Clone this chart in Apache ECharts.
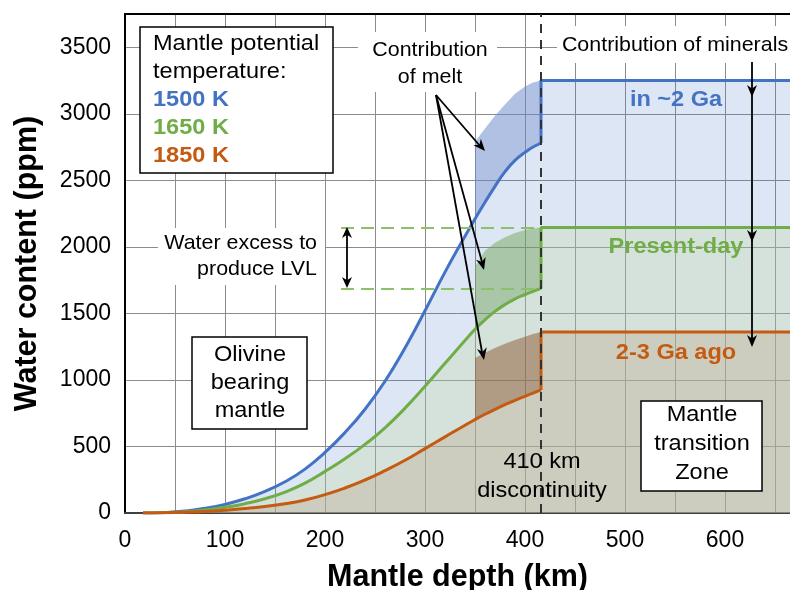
<!DOCTYPE html>
<html>
<head>
<meta charset="utf-8">
<script src="https://cdn.jsdelivr.net/npm/echarts@6/dist/echarts.min.js"></script>
<style>
html,body{margin:0;padding:0;background:#fff;}
#chart{width:790px;height:590px;}
</style>
</head>
<body>
<div id="chart"></div>
<script>
// ---------- data ----------
const depthKm    = [18, 40, 60, 80, 100, 120, 140, 160, 180, 200, 220, 240, 260, 280, 300, 320, 340, 350, 360, 370, 380, 390, 400, 408, 416];
const water1500K = [0, 4, 15, 35, 65, 107, 163, 235, 330, 455, 605, 780, 990, 1240, 1520, 1810, 2080, 2210, 2335, 2455, 2565, 2650, 2710, 2750, 2780];
const water1650K = [0, 3, 10, 23, 43, 70, 107, 157, 225, 313, 408, 516, 640, 788, 953, 1125, 1297, 1380, 1452, 1515, 1567, 1609, 1642, 1666, 1688];
const water1850K = [0, 2, 6, 12, 21, 33, 49, 70, 98, 138, 188, 248, 318, 396, 484, 572, 660, 702, 742, 779, 814, 847, 877, 901, 925];

const meltDepthKm = [350, 360, 370, 380, 390, 400, 408, 416];
const melt1500K = [2790, 2890, 2985, 3070, 3150, 3205, 3235, 3250];
const melt1650K = [1850, 1970, 2030, 2072, 2105, 2127, 2138, 2145];
const melt1850K = [1165, 1205, 1240, 1272, 1300, 1325, 1345, 1360];

const tzDepthKm = [416, 665];          // mantle transition zone (flat part)
const tz1500K = 3250, tz1650K = 2145, tz1850K = 1360;
const discontinuityKm = 416;
const lvlStartKm = 216, lvlEndKm = 410;
const xTicks = [0, 100, 200, 300, 400, 500, 600];
const yTicks = [0, 500, 1000, 1500, 2000, 2500, 3000, 3500];

// ---------- styling ----------
const FONT = 'Liberation Sans, Arial, sans-serif';
const C_BLUE = '#4472c4', C_GREEN = '#70ad47', C_BROWN = '#c55a11';
const pairs = (xs, ys) => xs.map((x, i) => [x, ys[i]]);

function areaSeries(data, fill, smooth) {
  return { type: 'line', data, smooth, symbol: 'none', z: 2, silent: true,
    lineStyle: { width: 0, opacity: 0 }, areaStyle: { color: fill, opacity: 1 } };
}
function lineSeries(data, color, smooth, extra) {
  return Object.assign({ type: 'line', data, smooth, symbol: 'none', z: 4, silent: true,
    lineStyle: { width: 3, color } }, extra || {});
}
function meltSeries(top, curve, fill) {
  return { type: 'custom', coordinateSystem: 'cartesian2d', z: 3, silent: true,
    data: [[meltDepthKm[0], top[0]]],
    renderItem: function (params, api) {
      const up = meltDepthKm.map((d, i) => api.coord([d, top[i]]));
      const low = meltDepthKm.map((d) => api.coord([d, curve[depthKm.indexOf(d)]])).reverse();
      return { type: 'polygon', shape: { points: up.concat(low) }, style: { fill } };
    } };
}
const stepData = (curve, tz) => [[depthKm[depthKm.length - 1], curve[curve.length - 1]], [tzDepthKm[0], tz], [tzDepthKm[1], tz]];

// arrows / annotations (pixel space)
function head(tip, from, len, half) {
  len = len || 12; half = half || 5;
  const dx = tip[0] - from[0], dy = tip[1] - from[1], L = Math.hypot(dx, dy);
  const ux = dx / L, uy = dy / L;
  const bx = tip[0] - ux * len, by = tip[1] - uy * len;
  const nx = tip[0] - ux * len * 0.7, ny = tip[1] - uy * len * 0.7;
  return { type: 'polygon', z: 100, silent: true,
    shape: { points: [tip, [bx - uy * half, by + ux * half], [nx, ny], [bx + uy * half, by - ux * half]] },
    style: { fill: '#000' } };
}
function seg(a, b) {
  return { type: 'line', z: 100, silent: true, shape: { x1: a[0], y1: a[1], x2: b[0], y2: b[1] },
    style: { stroke: '#000', lineWidth: 1.8 } };
}
function txt(x, y, text, opt) {
  opt = opt || {};
  return { type: 'text', z: 101, silent: true, x, y, scaleX: opt.sx || 1.07,
    style: { text, fill: opt.color || '#000', font: (opt.bold ? 'bold ' : '') + (opt.size || 22) + 'px ' + FONT,
      align: opt.align || 'center', verticalAlign: 'middle', lineHeight: opt.lh || 28 } };
}
function box(x, y, w, h, stroke) {
  return { type: 'rect', z: 99, silent: true, shape: { x, y, width: w, height: h },
    style: { fill: '#fff', stroke: stroke ? '#000' : null, lineWidth: stroke ? 1.5 : 0 } };
}

const meltFrom = [436, 95];
const elements = [
  // legend
  box(140, 27, 193, 146, true),
  txt(153, 44, 'Mantle potential', { align: 'left' }),
  txt(153, 72, 'temperature:', { align: 'left' }),
  txt(153, 100, '1500 K', { align: 'left', bold: true, color: C_BLUE }),
  txt(153, 128, '1650 K', { align: 'left', bold: true, color: C_GREEN }),
  txt(153, 156, '1850 K', { align: 'left', bold: true, color: C_BROWN }),
  // contribution of melt
  box(358, 32, 139, 60, false),
  txt(430, 63.5, 'Contribution\nof melt', { size: 21, lh: 27, sx: 1.02 }),
  seg(meltFrom, [480, 146]), head([485, 151], meltFrom),
  seg(meltFrom, [482, 262]), head([484, 270], meltFrom),
  seg(meltFrom, [482, 352]), head([484, 360], meltFrom),
  // contribution of minerals
  box(557, 26, 233, 37, false),
  txt(675, 45, 'Contribution of minerals', { size: 21, sx: 1.02 }),
  seg([752, 62], [752, 340]),
  head([752, 97], [752, 62]), head([752, 242], [752, 62]), head([752, 347], [752, 62]),
  // water excess
  box(158, 228, 167, 57, false),
  txt(317, 243.5, 'Water excess to', { size: 21, align: 'right', sx: 1.02 }),
  txt(317, 269, 'produce LVL', { size: 21, align: 'right', sx: 1.02 }),
  seg([347, 232], [347, 283]),
  head([347, 227], [347, 260], 11, 5), head([347, 288], [347, 260], 11, 5),
  // olivine box
  box(192, 337, 115, 92, true),
  txt(250, 383, 'Olivine\nbearing\nmantle', { lh: 28 }),
  // transition zone box
  box(641, 401, 121, 90, true),
  txt(702, 444, 'Mantle\ntransition\nZone', { lh: 29 }),
  // discontinuity
  txt(542, 476, '410 km\ndiscontinuity', { lh: 29 }),
  // series labels
  txt(676, 100, 'in ~2 Ga', { bold: true, color: C_BLUE }),
  txt(676, 247, 'Present-day', { bold: true, color: C_GREEN }),
  txt(676, 353, '2-3 Ga ago', { bold: true, color: C_BROWN })
];

const chart = echarts.init(document.getElementById('chart'), null, { renderer: 'canvas' });
chart.setOption({
  animation: false,
  backgroundColor: '#fff',
  textStyle: { fontFamily: FONT },
  grid: { left: 125, right: 0, top: 14, bottom: 77, containLabel: false, outerBoundsMode: 'none' },
  xAxis: [{
    type: 'value', min: 0, max: 665, interval: 50, position: 'bottom',
    axisLine: { show: true, onZero: false, lineStyle: { color: '#404040', width: 2 } },
    axisTick: { show: false },
    axisLabel: { fontSize: 23, color: '#000', margin: 16, fontFamily: FONT,
      formatter: v => (xTicks.indexOf(v) >= 0 ? String(v) : '') },
    splitLine: { show: true, lineStyle: { color: '#8c8c8c', width: 1 } },
    name: 'Mantle depth (km)', nameLocation: 'middle', nameGap: 49,
    nameTextStyle: { fontSize: 30.5, fontWeight: 'bold', color: '#000', fontFamily: FONT }
  }, {
    type: 'value', min: 0, max: 665, position: 'top',
    axisLine: { show: true, onZero: false, lineStyle: { color: '#000', width: 2 } },
    axisTick: { show: false }, axisLabel: { show: false }, splitLine: { show: false }
  }],
  yAxis: {
    type: 'value', min: 0, max: 3750, interval: 500,
    axisLine: { show: true, onZero: false, lineStyle: { color: '#000', width: 2 } },
    axisTick: { show: false },
    axisLabel: { fontSize: 23, color: '#000', margin: 14, fontFamily: FONT,
      formatter: v => (yTicks.indexOf(v) >= 0 ? String(v) : '') },
    splitLine: { show: true, lineStyle: { color: '#8c8c8c', width: 1 } },
    name: 'Water content (ppm)', nameLocation: 'middle', nameGap: 82,
    nameTextStyle: { fontSize: 30.5, fontWeight: 'bold', color: '#000', fontFamily: FONT }
  },
  series: [
    areaSeries(pairs(depthKm, water1500K), 'rgba(68,114,196,0.18)', true),
    areaSeries(stepData(water1500K, tz1500K), 'rgba(68,114,196,0.18)', false),
    areaSeries(pairs(depthKm, water1650K), 'rgba(194,217,164,0.30)', true),
    areaSeries(stepData(water1650K, tz1650K), 'rgba(194,217,164,0.30)', false),
    areaSeries(pairs(depthKm, water1850K), 'rgba(193,166,137,0.35)', true),
    areaSeries(stepData(water1850K, tz1850K), 'rgba(193,166,137,0.35)', false),
    meltSeries(melt1500K, water1500K, 'rgba(99,132,202,0.5)'),
    meltSeries(melt1650K, water1650K, 'rgba(117,168,92,0.5)'),
    meltSeries(melt1850K, water1850K, 'rgba(139,86,46,0.5)'),
    lineSeries(pairs(depthKm, water1500K), C_BLUE, true),
    lineSeries(stepData(water1500K, tz1500K), C_BLUE, false),
    lineSeries(pairs(depthKm, water1650K), C_GREEN, true, {
      markLine: { silent: true, symbol: 'none', label: { show: false },
        lineStyle: { color: '#8cc168', width: 2, type: [13, 7] },
        data: [
          [{ coord: [lvlStartKm, tz1650K] }, { coord: [lvlEndKm, tz1650K] }],
          [{ coord: [lvlStartKm, water1650K[water1650K.length - 1]] }, { coord: [lvlEndKm, water1650K[water1650K.length - 1]] }]
        ] }
    }),
    lineSeries(stepData(water1650K, tz1650K), C_GREEN, false),
    lineSeries(pairs(depthKm, water1850K), C_BROWN, true),
    lineSeries(stepData(water1850K, tz1850K), C_BROWN, false, {
      markLine: { silent: true, symbol: 'none', label: { show: false },
        lineStyle: { color: '#333', width: 2, type: [9, 7] },
        data: [{ xAxis: discontinuityKm }] }
    })
  ],
  graphic: { elements }
});
</script>
</body>
</html>
